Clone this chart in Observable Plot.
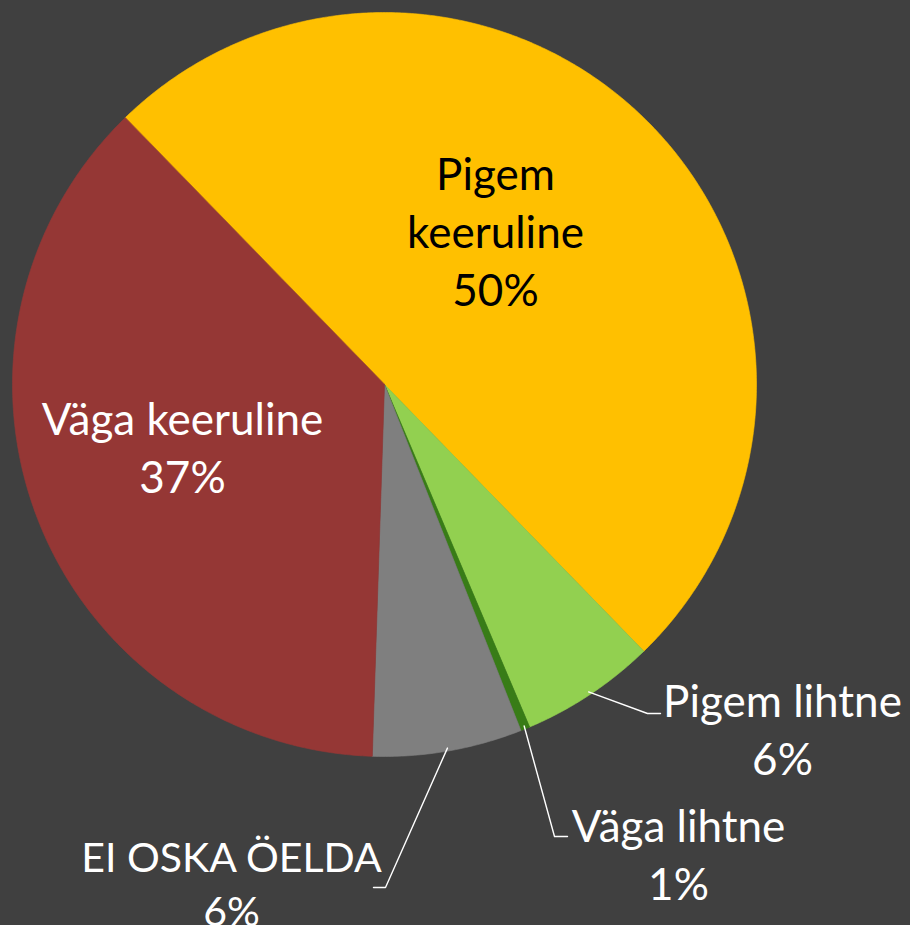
<!DOCTYPE html>
<html>
<head>
<meta charset="utf-8">
<script src="https://cdn.jsdelivr.net/npm/d3@7"></script>
<script src="https://cdn.jsdelivr.net/npm/@observablehq/plot@0.6"></script>
<style>
  html, body { margin: 0; padding: 0; background: #404040; }
  #chart svg { display: block; }
</style>
</head>
<body>
<div id="chart"></div>
<script>
// ---- data ----
const categories = ["Pigem keeruline", "Pigem lihtne", "Väga lihtne", "EI OSKA ÖELDA", "Väga keeruline"];
const values = [50.0, 5.9, 0.4, 6.5, 37.2];
const percentLabels = ["50%", "6%", "1%", "6%", "37%"];
const categoryLines = [["Pigem", "keeruline"], ["Pigem lihtne"], ["Väga lihtne"], ["EI OSKA ÖELDA"], ["Väga keeruline"]];
const colors = ["#FFC000", "#92D050", "#387C17", "#7F7F7F", "#953735"];
const textColors = ["#000000", "#ffffff", "#ffffff", "#ffffff", "#ffffff"];

// ---- layout (pixels) ----
const W = 910, H = 925;
const cx = 384, cy = 384, R = 372;
const startDeg = -44.2;
const lineGap = 58;
// label block centres (middle baseline), font sizes and leader elbows/ends
const labelLayout = [
  {x: 495, base: 243, fs: 44, leader: null},
  {x: 782, base: 741.5, fs: 44, leader: [[647, 713], [660, 713]]},
  {x: 678, base: 866, fs: 44, leader: [[554, 836], [567, 836]]},
  {x: 231, base: 894, fs: 41, leader: [[385, 887], [373, 887]]},
  {x: 182, base: 459, fs: 44, leader: null}
];

const arcs = d3.pie().sort(null)
  .startAngle(startDeg * Math.PI / 180)
  .endAngle(startDeg * Math.PI / 180 + 2 * Math.PI)(values);

const px = (a, r) => cx + r * Math.sin(a);
const py = (a, r) => cy - r * Math.cos(a);

// slice outlines
const slicePts = [];
arcs.forEach((a, i) => {
  const name = categories[i];
  slicePts.push({name, x: cx, y: cy});
  const n = Math.max(2, Math.ceil((a.endAngle - a.startAngle) / (Math.PI / 360)));
  for (let k = 0; k <= n; k++) {
    const t = a.startAngle + (a.endAngle - a.startAngle) * k / n;
    slicePts.push({name, x: px(t, R), y: py(t, R)});
  }
});

// leader lines
const leaderPts = [];
arcs.forEach((a, i) => {
  const L = labelLayout[i].leader;
  if (!L) return;
  const mid = (a.startAngle + a.endAngle) / 2;
  leaderPts.push({name: categories[i], x: px(mid, R - 3), y: py(mid, R - 3)});
  L.forEach(p => leaderPts.push({name: categories[i], x: p[0], y: p[1]}));
});

// labels
const labels = categories.map((c, i) => ({
  name: c,
  text: [...categoryLines[i], percentLabels[i]].join("\n"),
  x: labelLayout[i].x,
  y: labelLayout[i].base - 0.32 * labelLayout[i].fs,
  fs: labelLayout[i].fs,
  color: textColors[i]
}));

const chart = Plot.plot({
  width: W,
  height: H,
  margin: 0,
  style: {background: "#404040", fontFamily: "Lato, 'Open Sans', sans-serif"},
  x: {domain: [0, W], range: [0, W], axis: null},
  y: {domain: [0, H], range: [0, H], axis: null},
  color: {domain: categories, range: colors},
  marks: [
    Plot.line(slicePts, {x: "x", y: "y", z: "name", fill: "name", stroke: "name", strokeWidth: 0.6, curve: "linear-closed"}),
    Plot.line(leaderPts, {x: "x", y: "y", z: "name", stroke: "#ffffff", strokeWidth: 1.4}),
    Plot.text(labels, {x: "x", y: "y", text: "text", fill: "color", fontSize: "fs", lineHeight: lineGap / 44, textAnchor: "middle"})
  ]
});
document.getElementById("chart").appendChild(chart);
</script>
</body>
</html>
